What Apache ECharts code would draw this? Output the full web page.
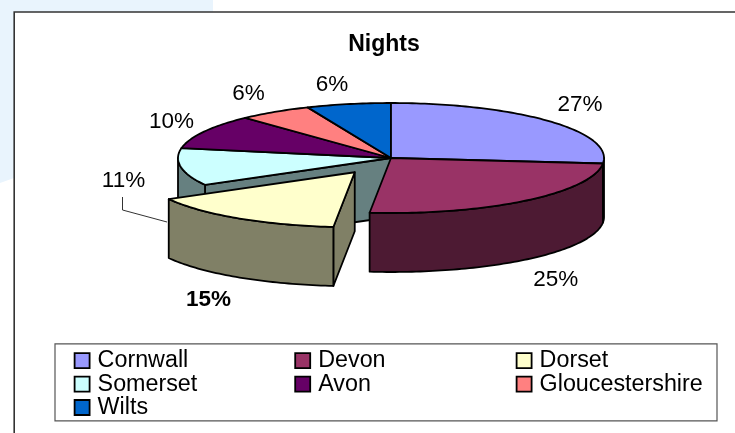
<!DOCTYPE html>
<html><head><meta charset="utf-8">
<style>html,body{margin:0;padding:0;background:#fff}#c{width:735px;height:433px}</style>
<script src="https://cdn.jsdelivr.net/npm/echarts@6/dist/echarts.min.js"></script></head>
<body><div id="c"></div>
<script>
const categories = ['Cornwall','Devon','Dorset','Somerset','Avon','Gloucestershire','Wilts'];
const values = [26.6,25.0,15.3,11.0,10.1,5.6,6.4];
const topColors = ['#9999FF','#993366','#FFFFCC','#CCFFFF','#660066','#FF8080','#0066CC'];
const sideColors = ['#4D4D80','#4D1A33','#808066','#668080','#330033','#804040','#003366'];
const explodedIndex = 2;
const titleText = 'Nights';

// layout only
const cx=391, cy=158, rx=213, ry=55, depth=59, explode=0.31;
const labelOffsets = [[31,-16.6],[30,79.4],[-29.3,81.7],[-57.3,13.5],[-32.5,-9.7],[-26.2,-18.4],[-16.4,-19.6]];
const drawOrder = [3,4,5,6,0,1,2];
const startWallSlices = [2,3];
const total = values.reduce((a,b)=>a+b,0);
const starts = []; values.reduce((s,v,i)=>{starts[i]=s;return s+v;},0);
const ang = p => p/total*2*Math.PI;
function pt(a,ox,oy,d){return [cx+ox+rx*Math.sin(a), cy+oy-ry*Math.cos(a)+(d||0)];}
function arc(a0,a1,ox,oy,d){const n=Math.max(2,Math.ceil((a1-a0)/0.02));const o=[];for(let i=0;i<=n;i++)o.push(pt(a0+(a1-a0)*i/n,ox,oy,d));return o;}
const stroke={stroke:'#000',lineWidth:1.8,lineJoin:'round'};

function sliceItem(i){
  return function(params,api){
    const a0=ang(starts[i]),a1=ang(starts[i]+api.value(0)),m=(a0+a1)/2;
    const k=i===explodedIndex?explode:0;
    const ox=rx*k*Math.sin(m),oy=-ry*k*Math.cos(m);
    const kids=[];
    const c=[cx+ox,cy+oy];
    const P=pts=>({type:'polygon',shape:{points:pts},style:Object.assign({fill:sideColors[i]},stroke)});
    if(startWallSlices.includes(i)){
      const e=pt(a0,ox,oy);
      kids.push(P([c,e,[e[0],e[1]+depth],[c[0],c[1]+depth]]));
    }
    const f0=Math.max(a0,Math.PI/2),f1=Math.min(a1,1.5*Math.PI);
    if(f1>f0){
      kids.push(P(arc(f0,f1,ox,oy).concat(arc(f0,f1,ox,oy,depth).reverse())));
    }
    kids.push({type:'polygon',shape:{points:[c].concat(arc(a0,a1,ox,oy))},style:Object.assign({fill:topColors[i]},stroke)});
    const e=pt(m,ox,oy),off=labelOffsets[i];
    kids.push({type:'text',style:{text:Math.round(api.value(0)/total*100)+'%',x:e[0]+off[0],y:e[1]+off[1],align:'center',verticalAlign:'middle',
      fill:'#000',font:(i===explodedIndex?'bold ':'')+'22.5px "Liberation Sans"'}});
    return {type:'group',children:kids};
  };
}
const series=drawOrder.map(i=>({type:'custom',name:categories[i],coordinateSystem:'none',silent:true,animation:false,
  itemStyle:{color:topColors[i]},data:[[values[i]]],renderItem:sliceItem(i),clip:false}));

const legendBase={orient:'vertical',top:349,icon:'rect',itemWidth:15,itemHeight:15,itemGap:0,selectedMode:false,padding:0,
  textStyle:{fontFamily:'Liberation Sans',fontSize:23.3,lineHeight:23.4,color:'#000',padding:[0,0,0,3]},
  itemStyle:{borderColor:'#000',borderWidth:1.8}};
const chart=echarts.init(document.getElementById('c'),null,{renderer:'canvas'});
chart.setOption({
  animation:false,backgroundColor:'#fff',
  title:{text:titleText,left:379,top:28,textAlign:'center',textStyle:{fontFamily:'Liberation Sans',fontWeight:'bold',fontSize:23,color:'#000'}},
  legend:[
    Object.assign({},legendBase,{left:73.7,data:[categories[0],categories[3],categories[6]]}),
    Object.assign({},legendBase,{left:294.3,data:[categories[1],categories[4]]}),
    Object.assign({},legendBase,{left:515.7,data:[categories[2],categories[5]]})
  ],
  graphic:[
    {type:'polygon',z:-10,silent:true,shape:{points:[[0,0],[213,0],[213,12],[14,12],[14,178],[0,183]]},style:{fill:'#E9F4FD'}},
    {type:'rect',z:-5,silent:true,shape:{x:14.2,y:12,width:740,height:440},style:{fill:'#fff',stroke:'#333',lineWidth:1.6}},
    {type:'rect',z:-4,silent:true,shape:{x:55,y:343.8,width:662,height:77},style:{fill:'#fff',stroke:'#555',lineWidth:1.2}},
    {type:'polyline',z:1,silent:true,shape:{points:[[122.5,197],[122.5,210],[167,222]]},style:{stroke:'#333',lineWidth:1,fill:null}}
  ],
  series
});
</script></body></html>
